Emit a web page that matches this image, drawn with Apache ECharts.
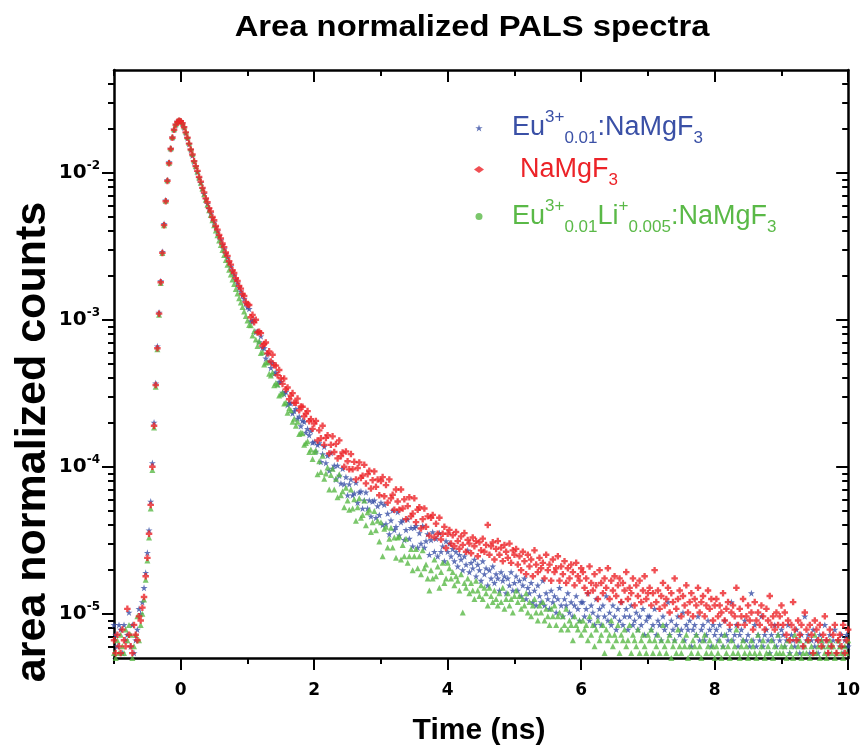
<!DOCTYPE html>
<html><head><meta charset="utf-8">
<script src="https://cdn.jsdelivr.net/npm/echarts@6/dist/echarts.min.js"></script>
<style>html,body{margin:0;padding:0;background:#fff}#c{width:863px;height:751px}</style>
</head><body><div id="c"></div>
<script>
// Time channels (ns)
const time = [
-1,-0.975,-0.95,-0.925,-0.9,-0.875,-0.85,-0.825,-0.8,-0.775,-0.75,-0.725,-0.7,-0.675,-0.65,-0.625,
-0.6,-0.575,-0.55,-0.525,-0.5,-0.475,-0.45,-0.425,-0.4,-0.375,-0.35,-0.325,-0.3,-0.275,-0.25,-0.225,-0.2,-0.175,-0.15,-0.125,-0.1,-0.075,-0.05,-0.025,0,
0.025,0.05,0.075,0.1,0.125,0.15,0.175,0.2,0.225,0.25,0.275,0.3,0.325,0.35,0.375,0.4,0.425,0.45,0.475,0.5,0.525,0.55,0.575,0.6,0.625,0.65,0.675,0.7,0.725,0.75,0.775,0.8,0.825,0.85,0.875,0.9,0.925,0.95,0.975,1,
1.025,1.05,1.075,1.1,1.125,1.15,1.175,1.2,1.225,1.25,1.275,1.3,1.325,1.35,1.375,1.4,1.425,1.45,1.475,1.5,1.525,1.55,1.575,1.6,1.625,1.65,1.675,1.7,1.725,1.75,1.775,1.8,1.825,1.85,1.875,1.9,1.925,1.95,1.975,2,
2.025,2.05,2.075,2.1,2.125,2.15,2.175,2.2,2.225,2.25,2.275,2.3,2.325,2.35,2.375,2.4,2.425,2.45,2.475,2.5,2.525,2.55,2.575,2.6,2.625,2.65,2.675,2.7,2.725,2.75,2.775,2.8,2.825,2.85,2.875,2.9,2.925,2.95,2.975,3,
3.025,3.05,3.075,3.1,3.125,3.15,3.175,3.2,3.225,3.25,3.275,3.3,3.325,3.35,3.375,3.4,3.425,3.45,3.475,3.5,3.525,3.55,3.575,3.6,3.625,3.65,3.675,3.7,3.725,3.75,3.775,3.8,3.825,3.85,3.875,3.9,3.925,3.95,3.975,4,
4.025,4.05,4.075,4.1,4.125,4.15,4.175,4.2,4.225,4.25,4.275,4.3,4.325,4.35,4.375,4.4,4.425,4.45,4.475,4.5,4.525,4.55,4.575,4.6,4.625,4.65,4.675,4.7,4.725,4.75,4.775,4.8,4.825,4.85,4.875,4.9,4.925,4.95,4.975,5,
5.025,5.05,5.075,5.1,5.125,5.15,5.175,5.2,5.225,5.25,5.275,5.3,5.325,5.35,5.375,5.4,5.425,5.45,5.475,5.5,5.525,5.55,5.575,5.6,5.625,5.65,5.675,5.7,5.725,5.75,5.775,5.8,5.825,5.85,5.875,5.9,5.925,5.95,5.975,6,
6.025,6.05,6.075,6.1,6.125,6.15,6.175,6.2,6.225,6.25,6.275,6.3,6.325,6.35,6.375,6.4,6.425,6.45,6.475,6.5,6.525,6.55,6.575,6.6,6.625,6.65,6.675,6.7,6.725,6.75,6.775,6.8,6.825,6.85,6.875,6.9,6.925,6.95,6.975,7,
7.025,7.05,7.075,7.1,7.125,7.15,7.175,7.2,7.225,7.25,7.275,7.3,7.325,7.35,7.375,7.4,7.425,7.45,7.475,7.5,7.525,7.55,7.575,7.6,7.625,7.65,7.675,7.7,7.725,7.75,7.775,7.8,7.825,7.85,7.875,7.9,7.925,7.95,7.975,8,
8.025,8.05,8.075,8.1,8.125,8.15,8.175,8.2,8.225,8.25,8.275,8.3,8.325,8.35,8.375,8.4,8.425,8.45,8.475,8.5,8.525,8.55,8.575,8.6,8.625,8.65,8.675,8.7,8.725,8.75,8.775,8.8,8.825,8.85,8.875,8.9,8.925,8.95,8.975,9,
9.025,9.05,9.075,9.1,9.125,9.15,9.175,9.2,9.225,9.25,9.275,9.3,9.325,9.35,9.375,9.4,9.425,9.45,9.475,9.5,9.525,9.55,9.575,9.6,9.625,9.65,9.675,9.7,9.725,9.75,9.775,9.8,9.825,9.85,9.875,9.9,9.925,9.95,9.975,10
];

// Area normalized counts, in units of 1e-6
const euNaMgF3 = [
8.4,7.2,6,8.4,7.8,5.4,8.4,6.6,7.2,10.2,6,8.4,5.4,6.6,7.8,10.8,
10,12,15,19,26,37,58,106,200,370,660,1120,1830,2900,4500,6500,8900,11800,14600,17400,19700,21300,22300,22600,22400,
21600,20300,18700,17200,15700,14300,13100,11900,11000,10100,9250,8550,7800,7200,6620,6150,5680,5300,4920,4600,4270,3990,3700,3480,3230,3030,2810,2640,2450,2300,2130,2010,1870,1770,1650,1560,1460,1390,1290,1220,
1186,975,978,993,825,831,705,772,643,641,546,587,519,470,509,429,439,363,377,380,320,312,323,263,272,270,231,239,248,213,219,189,206,202,171,181,164,175,146,148,
127,141,145,108,122,137,106,119,94,124,97,102,82,102,87,77,97,76,85,64,76,82,64,66,78,57,67,68,52,59,67,52,59,46,58,59,45,54,47,57,
40.2,55.2,40.8,48,34.8,43.2,50.4,37.2,39,49.2,34.2,42,43.2,31.8,37.2,43.8,32.4,38.4,28.8,38.4,39.6,28.2,35.4,30,39.6,28.2,31.2,34.8,25.2,31.8,36,26.4,32.4,24.6,35.4,26.4,28.8,22.8,31.2,26.4,
30,24.6,27.6,22.8,26.4,21,25.2,23.4,19.8,24.6,21.6,27,19.2,22.2,20.4,23.4,18,21.6,19.8,16.8,22.8,18.6,20.4,15.6,19.8,17.4,21,16.2,18.6,17.4,14.4,19.2,16.8,18,13.8,17.4,15.6,19.2,14.4,16.2,
18,14.4,16.8,13.2,15.6,17.4,12.6,15,13.8,16.2,12,14.4,11.4,15.6,13.2,12,16.8,11.4,13.8,12.6,10.8,14.4,12,13.2,10.2,12.6,15,11.4,9.6,12.6,11.4,13.8,10.2,12,9.6,11.4,13.2,10.8,9,12,
12,9.6,10.8,13.8,9,11.4,10.2,8.4,12.6,9.6,10.8,8.4,11.4,9.6,13.2,9,10.2,8.4,11.4,9.6,7.8,10.8,9,12,8.4,9.6,10.8,7.8,9.6,11.4,8.4,9,10.2,7.8,9.6,8.4,10.8,7.2,9,9.6,
9.6,7.8,8.4,10.8,7.2,9,8.4,6.6,9.6,7.8,8.4,12,7.2,9,7.8,6.6,8.4,9.6,7.2,7.8,10.2,6.6,8.4,7.8,9,6,7.8,8.4,7.2,9.6,6.6,7.8,8.4,6.6,7.2,9,7.8,6,8.4,7.2,
7.8,6.6,8.4,7.2,6,9,7.2,6.6,7.8,12,6.6,7.2,8.4,6,7.2,7.8,6.6,9,6.6,7.2,6,13.8,6.6,8.4,6,7.2,6.6,9.6,6,7.2,7.8,6.6,5.4,7.2,6.6,8.4,6,7.2,6.6,7.8,
7.2,6,6.6,8.4,5.4,7.2,6.6,6,7.8,6.6,5.4,7.2,6,9.6,6.6,7.2,5.4,6.6,7.8,6,6.6,5.4,7.2,6.6,6,8.4,6.6,5.4,7.2,6,6.6,7.8,5.4,6.6,6,7.2,5.4,6.6,7.2,6
];
const naMgF3 = [
6.6,5.4,7.2,6,5.4,7.8,6.6,6,10.8,7.2,6,5.4,8.4,7.2,6.6,9.6,
9,11,13,18,24,35,55,100,190,360,640,1100,1800,2850,4400,6400,8800,11600,14500,17300,19600,21200,22200,22600,22400,
21700,20400,18800,17300,15800,14400,13300,12000,11100,10300,9350,8700,7900,7350,6700,6300,5750,5450,5000,4750,4350,4100,3780,3580,3300,3120,2870,2720,2500,2370,2170,2080,1920,1840,1700,1630,1500,1450,1320,1270,
1260,1040,1080,960,1000,820,830,810,665,685,700,590,610,520,578,490,488,420,455,400,366,398,336,346,288,305,317,273,272,291,242,257,256,220,230,239,204,211,181,197,
205,151,177,156,190,141,157,164,123,141,161,126,143,114,151,118,125,100,127,109,96,122,96,108,82,98,107,84,87,103,77,89,94,71,81,93,73,82,64,80,
85,63,75,57,82,61,64.5,51,70,58,51,70,52,60,44,54,62,46,48,61,42,51,53,38,44,52,39,46,34,45,47,33,41,35,45,32,35,39,28,35,
37.2,30,34.2,28.8,36,31.2,27.6,33.6,29.4,35.4,26.4,31.8,30,25.8,33,28.8,31.2,24.6,30.6,27,32.4,26.4,29.4,40.2,25.2,28.8,30.6,23.4,27.6,31.2,25.2,28.2,22.8,29.4,26.4,24,30,22.2,27,25.2,
27.6,21.6,24.6,19.8,26.4,22.8,18.6,25.2,21,23.4,18,27,21.6,19.2,24,20.4,22.2,17.4,25.2,19.8,21.6,16.8,23.4,19.2,20.4,24.6,16.8,21,18.6,22.8,16.2,20.4,17.4,21.6,19.2,15.6,22.2,18,16.8,20.4,
19.2,15,17.4,13.8,21,16.2,14.4,18.6,15.6,12.6,19.8,16.2,13.8,17.4,15,20.4,12.6,16.8,14.4,18,13.2,15.6,17.4,12,16.2,14.4,19.2,12.6,15,13.8,17.4,11.4,15.6,13.2,16.8,12,14.4,18,12.6,13.8,
15,11.4,13.8,19.8,12,14.4,10.8,13.2,16.2,11.4,12.6,15,10.2,13.8,12,17.4,10.8,12.6,14.4,9.6,13.2,11.4,15.6,10.2,12,13.8,9.6,12.6,11.4,15,10.2,12,13.2,9.6,11.4,14.4,10.8,12.6,9,11.4,
12.6,9.6,11.4,10.2,13.8,9,10.8,12,8.4,10.2,11.4,9.6,15,8.4,10.8,9.6,12.6,8.4,9.6,11.4,9,10.2,7.8,12,9,10.2,8.4,11.4,9.6,7.8,10.8,9,13.2,8.4,9.6,7.8,10.2,8.4,9.6,11.4,
8.4,10.2,7.2,9,6.6,8.4,12,7.8,6.6,9,7.2,8.4,6,10.2,7.8,6.6,8.4,7.2,5.4,9,7.8,6.6,8.4,6,7.2,9.6,6.6,5.4,7.8,6,7.2,8.4,5.4,6.6,7.2,6,8.4,5.4,6.6,7.8
];
const euLiNaMgF3 = [
5.4,5,6.6,5.4,7.2,6,5.4,7.8,6.6,8.4,7.2,5,6,7.2,9.6,6.6,
8.4,10,12.5,17,23,33,52,95,185,350,630,1080,1780,2850,4400,6450,8900,11700,14700,17500,19800,21400,22400,22800,22600,
21900,20600,19000,17500,16000,14600,13400,12100,11100,10200,9300,8550,7800,7150,6550,6050,5550,5150,4750,4400,4050,3750,3460,3220,2980,2760,2550,2370,2190,2030,1880,1750,1620,1510,1400,1310,1220,1140,1060,990,
922,918,782,840,735,663,713,595,603,496,512,514,429,417,437,358,372,363,305,311,319,269,274,233,250,242,202,212,190,202,167,171,169,141,145,149,126,131,113,126,
129,89,109,92,119,83,90,99,70,88,97,70,83,62,89,64,68,53,72,59,51,70,52,60,43,53,61,45,47,59,40,49,51,36,42,50,37,43,31,42,
24.6,37.8,39,28.2,32.4,38.4,28.2,33,24,33,33.6,23.4,29.4,24.6,32.4,22.2,24.6,27.6,19.8,24.6,27.6,20.4,24.6,18.6,27,20.4,21.6,17.4,14.4,19.8,17.4,23.4,18,21,15,19.2,22.2,16.2,17.4,22.2,
20.4,17.4,19.2,15.6,18,16.8,14.4,18.6,10.2,16.2,15,17.4,13.8,16.2,14.4,12.6,16.8,14.4,13.2,15.6,12.6,15,13.8,11.4,15,13.2,12,14.4,12.6,11.4,13.8,12,15,10.8,12.6,13.8,11.4,12.6,10.2,13.2,
14.4,12,13.2,10.8,12.6,11.4,13.8,10.2,12,9.6,11.4,12.6,10.2,9,11.4,10.2,12,9,10.8,9.6,8.4,10.8,9.6,11.4,8.4,9.6,10.2,7.8,9.6,8.4,10.8,7.8,9,8.4,6.6,9.6,8.4,7.8,9,7.2,
9,7.8,8.4,6.6,9.6,7.2,8.4,6,7.8,9,6.6,7.2,8.4,5.4,7.8,6.6,7.2,9,6,7.2,6.6,8.4,5.4,7.2,6.6,7.8,6,6.6,8.4,5.4,7.2,6.6,6,7.8,5.4,6.6,7.2,6,5.4,7.2,
6.6,7.8,5.4,6.6,6,7.2,5.4,6.6,8.4,6,5.4,6.6,7.2,5,6,6.6,5.4,7.8,6,5.4,6.6,6,7.2,5,6,5.4,6.6,6,7.2,5.4,6,5,6.6,7.2,5.4,6,6.6,5.4,6,5,
6,5.4,6.6,5,6,7.2,5.4,6,5,6.6,5.4,6,7.8,5.4,5,6,6.6,5.4,6,5,5.4,6.6,6,5.4,5,7.2,5.4,6,6.6,5,5.4,6,5.4,6.6,5,6,5.4,7.2,5.4,6,
5.4,6,5,6.6,5.4,6,5,7.2,5.4,6,6.6,5,5.4,6,5.4,6.6,5,6,5.4,7.2,5.4,6,5,6.6,6,5.4,5,6,6.6,5.4,6,5,5.4,6.6,6,5.4,5,6,5.4,6.6
];

const xMajor = [0, 2, 4, 6, 8, 10];
const yMajor = [1e-5, 1e-4, 1e-3, 1e-2];
const yMinor = [6e-6,7e-6,8e-6,9e-6,2e-5,3e-5,4e-5,5e-5,6e-5,7e-5,8e-5,9e-5,2e-4,3e-4,4e-4,5e-4,6e-4,7e-4,8e-4,9e-4,2e-3,3e-3,4e-3,5e-3,6e-3,7e-3,8e-3,9e-3,2e-2,3e-2,4e-2];
const names = ['Eu3+0.01:NaMgF3', 'NaMgF3', 'Eu3+0.01Li+0.005:NaMgF3'];
const colors = ['#3a50a6', '#ec2328', '#5ab947'];
const UNIT = 1e-6;

const starPath = 'path://M50,0L61.2,34.5L97.6,34.5L68.2,55.9L79.4,90.5L50,69.1L20.6,90.5L31.8,55.9L2.4,34.5L38.8,34.5Z';
const plusPath = 'path://M32,0H68V32H100V68H68V100H32V68H0V32H32Z';

function pts(arr) { return time.map((t, i) => [t, arr[i] * UNIT]); }

const chart = echarts.init(document.getElementById('c'), null, {renderer: 'canvas'});
const lineS = {color: '#000', width: 2.5};
const tickS = {color: '#000', width: 2};
const Y = {min: 5e-6, max: 5e-2, logBase: 10, type: 'log'};
const X = {type: 'value', min: -1, max: 10, interval: 1};

const mainF = {fontFamily: 'Liberation Sans', fontSize: 27, lineHeight: 38};
const supF = {fontFamily: 'Liberation Sans', fontSize: 17, lineHeight: 24, verticalAlign: 'top'};
const subF = {fontFamily: 'Liberation Sans', fontSize: 17, lineHeight: 14, verticalAlign: 'bottom'};
function rs(base, c) { return Object.assign({}, base, {color: c}); }

const legendText = {};
legendText[names[0]] = '{sp| }{bm|Eu}{bu|3+}{bd|0.01}{bm|:NaMgF}{bd|3}';
legendText[names[1]] = '{sq| }{rm|NaMgF}{rd|3}';
legendText[names[2]] = '{sp| }{gm|Eu}{gu|3+}{gd|0.01}{gm|Li}{gu|+}{gd|0.005}{gm|:NaMgF}{gd|3}';

const noZero = {onZero: false};
function aLine(show) { return Object.assign({show: show, lineStyle: lineS}, noZero); }

const option = {
  animation: false,
  backgroundColor: '#fff',
  grid: {left: 114, right: 13, top: 70, bottom: 93, containLabel: false},
  xAxis: [
    Object.assign({}, X, {position: 'bottom', axisLine: aLine(true),
      axisTick: {show: true, length: 6, lineStyle: tickS},
      axisLabel: {customValues: xMajor, margin: 24, color: '#000', fontFamily: 'DejaVu Sans', fontWeight: 'bold', fontSize: 17},
      splitLine: {show: false}}),
    Object.assign({}, X, {position: 'bottom', axisLine: aLine(false),
      axisTick: {show: true, customValues: xMajor, length: 12, lineStyle: tickS},
      axisLabel: {show: false}, splitLine: {show: false}}),
    Object.assign({}, X, {position: 'top', axisLine: aLine(true),
      axisTick: {show: true, inside: true, length: 6, lineStyle: tickS},
      axisLabel: {show: false}, splitLine: {show: false}}),
    Object.assign({}, X, {position: 'top', axisLine: aLine(false),
      axisTick: {show: true, inside: true, customValues: xMajor, length: 12, lineStyle: tickS},
      axisLabel: {show: false}, splitLine: {show: false}})
  ],
  yAxis: [
    Object.assign({}, Y, {position: 'left', axisLine: aLine(true),
      axisTick: {show: true, customValues: yMajor, length: 12, lineStyle: tickS},
      axisLabel: {customValues: yMajor, margin: 14, color: '#000',
        formatter: function (v) {
          const l = Math.log10(v); const e = Math.round(l);
          if (Math.abs(l - e) > 1e-6) return '';
          return '{b|10}{s|' + e + '}';
        },
        rich: {
          b: {fontFamily: 'DejaVu Sans', fontWeight: 'bold', fontSize: 20, lineHeight: 26, color: '#000'},
          s: {fontFamily: 'DejaVu Sans', fontWeight: 'bold', fontSize: 12, lineHeight: 17, verticalAlign: 'top', color: '#000'}
        }},
      splitLine: {show: false}}),
    Object.assign({}, Y, {position: 'left', axisLine: aLine(false),
      axisTick: {show: true, customValues: yMinor, length: 6, lineStyle: tickS},
      axisLabel: {show: false}, splitLine: {show: false}}),
    Object.assign({}, Y, {position: 'right', axisLine: aLine(true),
      axisTick: {show: true, inside: true, customValues: yMajor, length: 12, lineStyle: tickS},
      axisLabel: {show: false}, splitLine: {show: false}}),
    Object.assign({}, Y, {position: 'right', axisLine: aLine(false),
      axisTick: {show: true, inside: true, customValues: yMinor, length: 6, lineStyle: tickS},
      axisLabel: {show: false}, splitLine: {show: false}})
  ],
  legend: {
    orient: 'vertical', left: 469, top: 104, itemWidth: 10, itemHeight: 7, itemGap: 9,
    data: [
      {name: names[0], icon: starPath},
      {name: names[1], icon: 'diamond'},
      {name: names[2], icon: 'circle'}
    ],
    formatter: function (n) { return legendText[n]; },
    textStyle: {
      rich: {
        sp: {width: 23, lineHeight: 38}, sq: {width: 31, lineHeight: 38},
        bm: rs(mainF, colors[0]), bu: rs(supF, colors[0]), bd: rs(subF, colors[0]),
        rm: rs(mainF, colors[1]), rd: rs(subF, colors[1]),
        gm: rs(mainF, colors[2]), gu: rs(supF, colors[2]), gd: rs(subF, colors[2])
      }
    },
    selectedMode: false
  },
  graphic: [
    {type: 'text', x: 472, y: 28, scaleX: 1.13,
      style: {text: 'Area normalized PALS spectra', font: 'bold 29px "Liberation Sans"', fill: '#000', align: 'center', verticalAlign: 'middle'}},
    {type: 'text', x: 33, y: 442, rotation: Math.PI / 2,
      style: {text: 'area normalized counts', font: 'bold 43px "Liberation Sans"', fill: '#000', align: 'center', verticalAlign: 'middle'}},
    {type: 'text', x: 479, y: 731,
      style: {text: 'Time (ns)', font: 'bold 30px "Liberation Sans"', fill: '#000', align: 'center', verticalAlign: 'middle'}}
  ],
  series: [
    {name: names[0], type: 'scatter', data: pts(euNaMgF3), symbol: starPath, symbolSize: 7,
      itemStyle: {color: colors[0]}, xAxisIndex: 0, yAxisIndex: 0, clip: true},
    {name: names[2], type: 'scatter', data: pts(euLiNaMgF3), symbol: 'triangle', symbolSize: 6,
      itemStyle: {color: colors[2]}, xAxisIndex: 0, yAxisIndex: 0, clip: true},
    {name: names[1], type: 'scatter', data: pts(naMgF3), symbol: plusPath, symbolSize: 6.5,
      itemStyle: {color: colors[1]}, xAxisIndex: 0, yAxisIndex: 0, clip: true}
  ]
};
chart.setOption(option);
</script>
</body></html>
